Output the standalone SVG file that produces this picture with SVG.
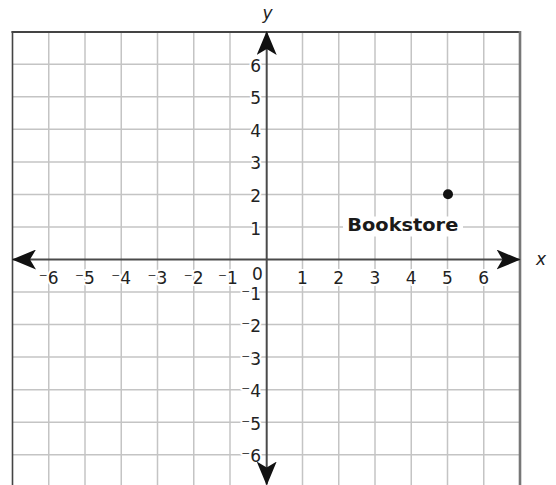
<svg xmlns="http://www.w3.org/2000/svg" width="556" height="485" viewBox="0 0 556 485">
<style>
.grid line{stroke:#c4c4c4;stroke-width:1.5}
.axis{stroke:#4a4a4a;stroke-width:2;fill:none}
.lbl{font-family:"DejaVu Sans",Verdana,sans-serif;font-size:17px;fill:#222;stroke:#fff;stroke-width:4;paint-order:stroke;stroke-linejoin:round}
.xl{text-anchor:middle}
.yl{text-anchor:end}
.var{font-family:"DejaVu Sans",Verdana,sans-serif;font-size:17px;font-style:italic;fill:#222;text-anchor:middle}
</style>
<defs>
<marker id="arr" markerUnits="userSpaceOnUse" viewBox="0 0 24 20" refX="23" refY="10" markerWidth="24" markerHeight="20" orient="auto-start-reverse">
<path d="M0,0 L24,10 L0,20 L6,10 Z" fill="#111"/>
</marker>
</defs>
<rect width="556" height="485" fill="#fff"/>
<g id="grid" class="grid">
<line x1="48.75" y1="32" x2="48.75" y2="485"/>
<line x1="85" y1="32" x2="85" y2="485"/>
<line x1="121.25" y1="32" x2="121.25" y2="485"/>
<line x1="157.5" y1="32" x2="157.5" y2="485"/>
<line x1="193.75" y1="32" x2="193.75" y2="485"/>
<line x1="230" y1="32" x2="230" y2="485"/>
<line x1="302.5" y1="32" x2="302.5" y2="485"/>
<line x1="338.75" y1="32" x2="338.75" y2="485"/>
<line x1="375" y1="32" x2="375" y2="485"/>
<line x1="411.25" y1="32" x2="411.25" y2="485"/>
<line x1="447.5" y1="32" x2="447.5" y2="485"/>
<line x1="483.75" y1="32" x2="483.75" y2="485"/>
<line x1="12.5" y1="64.2" x2="520" y2="64.2"/>
<line x1="12.5" y1="96.8" x2="520" y2="96.8"/>
<line x1="12.5" y1="129.3" x2="520" y2="129.3"/>
<line x1="12.5" y1="161.9" x2="520" y2="161.9"/>
<line x1="12.5" y1="194.4" x2="520" y2="194.4"/>
<line x1="12.5" y1="227" x2="520" y2="227"/>
<line x1="12.5" y1="292" x2="520" y2="292"/>
<line x1="12.5" y1="324.6" x2="520" y2="324.6"/>
<line x1="12.5" y1="357.1" x2="520" y2="357.1"/>
<line x1="12.5" y1="389.7" x2="520" y2="389.7"/>
<line x1="12.5" y1="422.2" x2="520" y2="422.2"/>
<line x1="12.5" y1="454.8" x2="520" y2="454.8"/>
</g>
<g id="border">
<line x1="11.5" y1="32" x2="521" y2="32" stroke="#444" stroke-width="1.8"/>
<line x1="12.5" y1="31" x2="12.5" y2="485" stroke="#444" stroke-width="1.6"/>
<line x1="520" y1="31" x2="520" y2="485" stroke="#777" stroke-width="2.6"/>
</g>
<g id="labels">
<text class="lbl xl" x="48.75" y="284">⁻6</text>
<text class="lbl xl" x="85" y="284">⁻5</text>
<text class="lbl xl" x="121.25" y="284">⁻4</text>
<text class="lbl xl" x="157.5" y="284">⁻3</text>
<text class="lbl xl" x="193.75" y="284">⁻2</text>
<text class="lbl xl" x="228" y="284">⁻1</text>
<text class="lbl xl" x="302.5" y="284">1</text>
<text class="lbl xl" x="338.75" y="284">2</text>
<text class="lbl xl" x="375" y="284">3</text>
<text class="lbl xl" x="411.25" y="284">4</text>
<text class="lbl xl" x="447.5" y="284">5</text>
<text class="lbl xl" x="483.75" y="284">6</text>
<text class="lbl xl" x="257.5" y="280">0</text>
<text class="lbl yl" x="261" y="71.7">6</text>
<text class="lbl yl" x="261" y="104.3">5</text>
<text class="lbl yl" x="261" y="136.8">4</text>
<text class="lbl yl" x="261" y="169.4">3</text>
<text class="lbl yl" x="261" y="201.9">2</text>
<text class="lbl yl" x="261" y="234.5">1</text>
<text class="lbl yl" x="261" y="299.5">⁻1</text>
<text class="lbl yl" x="261" y="332.1">⁻2</text>
<text class="lbl yl" x="261" y="364.6">⁻3</text>
<text class="lbl yl" x="261" y="397.2">⁻4</text>
<text class="lbl yl" x="261" y="429.7">⁻5</text>
<text class="lbl yl" x="261" y="462.3">⁻6</text>
</g>
<g id="connectors">
<line class="axis" x1="13" y1="259.5" x2="519.5" y2="259.5" marker-start="url(#arr)" marker-end="url(#arr)"/>
<line class="axis" x1="266.7" y1="32" x2="266.7" y2="484.5" marker-start="url(#arr)" marker-end="url(#arr)"/>
</g>
<g id="axis-x-label"><text class="var" x="541" y="265">x</text></g>
<g id="axis-y-label"><text class="var" x="267.5" y="19">y</text></g>
<g id="bookstore">
<rect x="343" y="216.5" width="120" height="20" fill="#fff"/>
<circle cx="448" cy="194.3" r="5" fill="#111"/>
<text x="402.8" y="231" font-family="'DejaVu Sans',Verdana,sans-serif" font-weight="bold" font-size="18.5" fill="#1a1a1a" text-anchor="middle" textLength="111" lengthAdjust="spacingAndGlyphs">Bookstore</text>
</g>
</svg>
